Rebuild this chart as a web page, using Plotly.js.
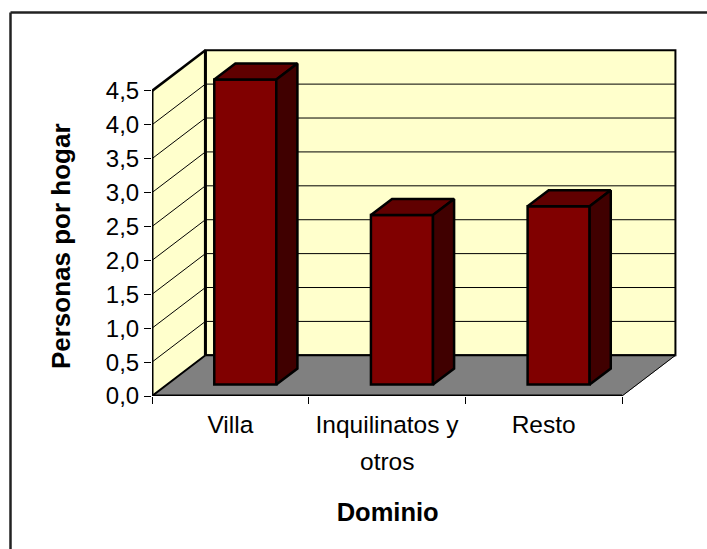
<!DOCTYPE html>
<html><head><meta charset="utf-8">
<script src="https://cdn.plot.ly/plotly-3.0.1.min.js"></script>
<style>html,body{margin:0;padding:0;background:#fff}#c{width:707px;height:549px}</style>
</head><body><div id="c"></div>
<script>
const categories = ["Villa", "Inquilinatos y", "Resto"];
const secondLine = ["", "otros", ""];
const positions = [0, 1, 2];
const values = [4.5, 2.5, 2.63];
const yTicks = [0, 0.5, 1, 1.5, 2, 2.5, 3, 3.5, 4, 4.5];
const boundaries = [-0.5, 0.5, 1.5, 2.5];

// Oblique projection of the depth axis, in axis units
const DX = 0.341, DY = 0.6;
const T0 = 0.28, T1 = 0.675;       // bar depth extent as a share of the chart depth
const HALF = 0.198;                // half bar width
const XMIN = -0.5, XMAX = 2.5, YTOP = 4.5;

const W = 707, H = 549, L = 152, R = 680, T = 46, B = 396;
const px = v => (v - L) / (R - L), py = v => (B - v) / (B - T);

const font = "Arial, 'Liberation Sans', sans-serif";
const poly = (pts, fill, line, w) => ({
  type: "path", layer: "below", xref: "x", yref: "y",
  path: "M" + pts.map(p => p.join(",")).join("L") + "Z",
  fillcolor: fill, line: {color: line, width: w}
});
const seg = (a, b, w, color) => ({
  type: "line", layer: "below", xref: "x", yref: "y",
  x0: a[0], y0: a[1], x1: b[0], y1: b[1], line: {color: color || "#000", width: w}
});

const shapes = [
  poly([[XMIN + DX, DY], [XMAX + DX, DY], [XMAX + DX, YTOP + DY], [XMIN + DX, YTOP + DY]], "#FFFFCC", "#000", 2),
  poly([[XMIN, 0], [XMIN + DX, DY], [XMIN + DX, YTOP + DY], [XMIN, YTOP]], "#FFFFCC", "#000", 1),
  poly([[XMIN, 0], [XMAX, 0], [XMAX + DX, DY], [XMIN + DX, DY]], "#808080", "#808080", 1)
];
yTicks.slice(1, -1).forEach(v => {
  shapes.push(seg([XMIN + DX, v + DY], [XMAX + DX, v + DY], 1));
  shapes.push(seg([XMIN, v], [XMIN + DX, v + DY], 1));
});
shapes.push(
  seg([XMIN + DX, DY], [XMIN + DX, YTOP + DY], 3),
  seg([XMIN, YTOP], [XMIN + DX, YTOP + DY], 2.5),
  seg([XMIN, 0], [XMIN + DX, DY], 2),
  seg([XMAX, 0], [XMAX + DX, DY], 1),
  seg([XMIN + DX, DY], [XMAX + DX, DY], 2),
  seg([XMIN, 0], [XMIN, YTOP], 3),
  seg([XMIN, 0], [XMAX, 0], 3)
);
// Chart frame: only top and left edges are in view
const frame = "#222";
shapes.push(
  {type: "line", xref: "paper", yref: "paper", x0: px(10.5), x1: px(W), y0: py(12.5), y1: py(12.5), line: {color: frame, width: 2.5}},
  {type: "line", xref: "paper", yref: "paper", x0: px(10.5), x1: px(10.5), y0: py(12.5), y1: py(H), line: {color: frame, width: 2.5}}
);

const topX = [], topY = [], sideX = [], sideY = [];
positions.forEach((p, i) => {
  const l = p - HALF, r = p + HALF, v = values[i];
  const a = T0 * DX, b = T1 * DX, c = T0 * DY, d = T1 * DY;
  topX.push(l + a, r + a, r + b, l + b, l + a, null);
  topY.push(c + v, c + v, d + v, d + v, c + v, null);
  sideX.push(r + a, r + b, r + b, r + a, r + a, null);
  sideY.push(c, d, d + v, c + v, c, null);
});

const data = [
  {type: "bar", x: positions, y: values, base: T0 * DY, width: 2 * HALF, offset: -HALF + T0 * DX,
   marker: {color: "#800000", line: {color: "#000", width: 2.5}}, hoverinfo: "y"},
  {type: "scatter", mode: "lines", x: topX, y: topY, fill: "toself", fillcolor: "#600000",
   line: {color: "#000", width: 2.5}, hoverinfo: "skip"},
  {type: "scatter", mode: "lines", x: sideX, y: sideY, fill: "toself", fillcolor: "#400000",
   line: {color: "#000", width: 2.5}, hoverinfo: "skip"}
];

const annotations = secondLine.map((t, i) => t ? {
  text: t, x: positions[i], xref: "x", y: py(461), yref: "paper", yanchor: "middle",
  showarrow: false, font: {family: font, size: 24.5, color: "#000"}
} : null).filter(Boolean);

const nb = n => "\u00A0".repeat(n);
const layout = {
  width: W, height: H, showlegend: false, barmode: "overlay",
  paper_bgcolor: "#fff", plot_bgcolor: "rgba(0,0,0,0)", separators: ",.",
  margin: {l: L, r: W - R, t: T, b: H - B, pad: 0},
  font: {family: font, color: "#000"},
  xaxis: {
    type: "linear", range: [XMIN, XMIN + (R - L) / 156.67], showgrid: false, zeroline: false, showline: false,
    tickmode: "array", tickvals: positions, ticktext: categories, ticks: "", ticklabelstandoff: 11,
    tickangle: 0, tickfont: {family: font, size: 24.5, color: "#000"}, automargin: false,
    minor: {tickmode: "array", tickvals: boundaries, ticks: "outside", ticklen: 7, tickwidth: 1, tickcolor: "#000", showgrid: false},
    title: {text: "<b>Dominio" + nb(8) + "</b>", font: {family: font, size: 25.5, color: "#000"}, standoff: 66}
  },
  yaxis: {
    range: [0, (B - T) / 67.8], showgrid: false, zeroline: false, showline: false,
    tickmode: "array", tickvals: yTicks, tickformat: ".1f", ticks: "outside", ticklen: 7, tickwidth: 1, tickcolor: "#000",
    tickfont: {family: font, size: 24, color: "#000"}, automargin: false,
    title: {text: "<b>Personas por hogar" + nb(7) + "</b>", font: {family: font, size: 26, color: "#000"}, standoff: 27}
  },
  shapes, annotations
};
Plotly.newPlot("c", data, layout, {displayModeBar: false, responsive: false});
</script></body></html>
